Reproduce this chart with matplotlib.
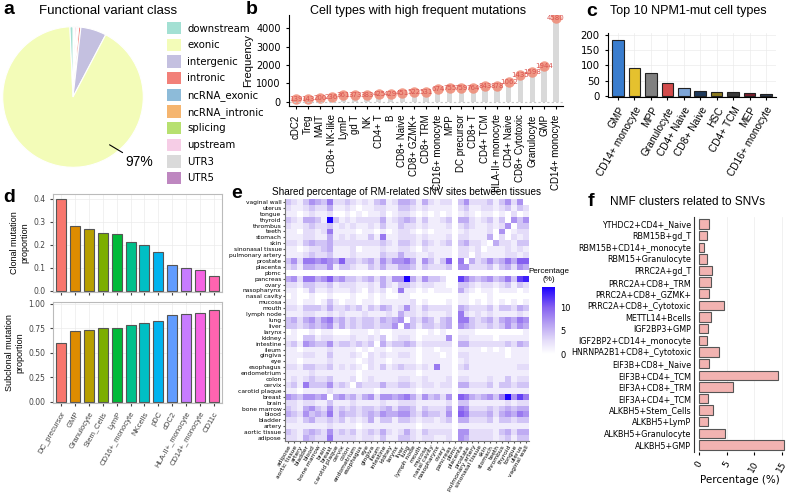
import matplotlib
matplotlib.use("Agg")
import matplotlib.pyplot as plt
import numpy as np
from matplotlib.colors import LinearSegmentedColormap
from matplotlib.patches import Patch

plt.rcParams['font.family'] = ['DejaVu Sans']

# ---- a: functional variant class (pie) ----
variant_classes = ['downstream', 'exonic', 'intergenic', 'intronic', 'ncRNA_exonic',
                   'ncRNA_intronic', 'splicing', 'upstream', 'UTR3', 'UTR5']
variant_share = [0.7, 91.6, 5.9, 0.5, 0.2, 0.2, 0.1, 0.4, 0.2, 0.2]
variant_colors = ['#A3E0D3', '#F3FCB8', '#C4C0E0', '#F28079', '#8DBBD9',
                  '#F5B56F', '#B7E070', '#F6CDE6', '#DADADA', '#BE87C0']

# ---- b: cell types with high frequent mutations ----
freq_cells = ['cDC2', 'Treg', 'MAIT', 'CD8+ NK-like', 'LymP', 'gd T', 'NK', 'CD4+ T', 'B',
              'CD8+ Naive', 'CD8+ GZMK+', 'CD8+ TRM', 'CD16+ monocyte', 'MPP', 'DC precursor',
              'CD8+ T', 'CD4+ TCM', 'HLA-II+ monocyte', 'CD4+ Naive', 'CD8+ Cytotoxic',
              'Granulocyte', 'GMP', 'CD14+ monocyte']
freq_values = [139, 143, 200, 236, 361, 373, 383, 425, 429, 451, 522, 531, 674, 755, 759,
               764, 843, 878, 1062, 1435, 1598, 1944, 4580]

# ---- c: top 10 NPM1-mut cell types ----
npm1_cells = ['GMP', 'CD14+ monocyte', 'MPP', 'Granulocyte', 'CD4+ Naive', 'CD8+ Naive',
              'HSC', 'CD4+ TCM', 'MEP', 'CD16+ monocyte']
npm1_counts = [185, 90, 74, 41, 27, 17, 14, 11, 8, 6]
npm1_colors = ['#3A7DCE', '#E5C12E', '#808080', '#D24B4B', '#7EA6D8', '#1E3A5C',
               '#8C7A1E', '#3A3A3A', '#7B1E2E', '#2B3A4E']

# ---- d: clonal / subclonal ----
clone_cells = ['DC_precursor', 'GMP', 'Granulocyte', 'Stem_Cells', 'LymP', 'CD16+_monocyte',
               'NKcells', 'pDC', 'cDC2', 'HLA-II+_monocyte', 'CD14+_monocyte', 'CD11c']
clonal_prop = [0.40, 0.28, 0.27, 0.25, 0.245, 0.21, 0.197, 0.17, 0.11, 0.10, 0.09, 0.065]
subclonal_prop = [0.60, 0.72, 0.73, 0.75, 0.755, 0.79, 0.803, 0.83, 0.89, 0.90, 0.91, 0.935]
clone_colors = ['#F8766D', '#DE8C00', '#B79F00', '#7CAE00', '#00BA38', '#00C08B',
                '#00BFC4', '#00B4F0', '#619CFF', '#C77CFF', '#F564E3', '#FF64B0']

# ---- e: shared percentage between tissues ----
tissues = ['adipose', 'aortic tissue', 'artery', 'bladder', 'blood', 'bone marrow', 'brain',
           'breast', 'carotid plaque', 'cervix', 'colon', 'endometrium', 'esophagus', 'eye',
           'gingiva', 'ileum', 'intestine', 'kidney', 'larynx', 'liver', 'lung', 'lymph node',
           'mouth', 'mucosa', 'nasal cavity', 'nasopharynx', 'ovary', 'pancreas', 'pbmc',
           'placenta', 'prostate', 'pulmonary artery', 'sinonasal tissue', 'skin', 'stomach',
           'teeth', 'thrombus', 'thyroid', 'tongue', 'uterus', 'vaginal wall']
# rows from top (vaginal wall) to bottom (adipose); hex level, 1 level = 1.45 %
share_rows = [
    "3213543622 3212134124 4314212203 5222313525 0",
    "2112322411 2101122113 3212111102 3112212313 2",
    "1101211200 1010112012 2101010101 2101101020 1",
    "3214431A31 2122224123 4313112304 4212313053 5",
    "2112322312 1211213113 2212111202 3211212503 3",
    "1102212611 1101101012 2101011101 2111205012 2",
    "1112211412 1211316112 2212111202 2111402021 2",
    "2213433422 2222223213 3213212303 4221042213 3",
    "1101223411 1201112112 2102111102 2120111212 1",
    "1112322311 1211113224 2211211102 2021111221 2",
    "3526656547 3323425355 6415313706 0423534647 7",
    "2314433513 3211324224 4313222305 5222313425 4",
    "0000000000 0000000000 0000000000 0000000000 0",
    "4526645745 3323424255 A425332008 6434534638 9",
    "2213322312 2211214213 3212211003 3212212313 2",
    "1101311211 1210212016 1101011104 2101101110 1",
    "0100100100 0100101001 1000000001 1000100000 0",
    "1101101310 1101101111 1201000101 1010101010 1",
    "2213332422 3231324312 5213222204 3222313324 3",
    "1112211212 1112111214 2212111206 2121211112 1",
    "3424535634 2323324345 0324313406 6323424546 5",
    "3323434524 2323323350 5313323405 4322323535 4",
    "0100101100 0111010011 1100101001 1100000000 1",
    "1103312211 1211213012 2101111502 2111101111 1",
    "2315433523 3232304233 4312222204 4222222324 3",
    "1101111211 1101011011 1101101101 1110101011 1",
    "1112211311 1210212112 2101110102 2111111011 1",
    "1101111211 1101211011 1101111101 2111111111 1",
    "2213322312 1210213123 2212161102 3111111112 2",
    "1111211111 1101111111 1101111101 1111111111 1",
    "1212322311 1201211112 2112111202 2111211312 2",
    "2316333523 2032224223 3212212204 4222313323 3",
    "1101111211 1111101111 1101111101 1111111111 1",
    "5435545045 3424525545 6425342507 6434536A58 6",
    "2212211311 1211112112 2211111203 3111111212 2",
    "3214532523 2323323424 4313222406 5222323434 4",
    "4325343624 3323435445 5324332507 6333424546 5",
    "2213422323 1212413313 3212212304 4222313323 3",
    "1111111211 1101111111 1101111101 1111111111 1",
    "3213432523 2312324212 4213222205 5222213424 4",
    "2214322622 2212213113 3212211205 4222212313 3",
]

# ---- f: NMF clusters ----
nmf_clusters = ['YTHDC2+CD4+_Naive', 'RBM15B+gd_T', 'RBM15B+CD14+_monocyte', 'RBM15+Granulocyte',
                'PRRC2A+gd_T', 'PRRC2A+CD8+_TRM', 'PRRC2A+CD8+_GZMK+', 'PRRC2A+CD8+_Cytotoxic',
                'METTL14+Bcells', 'IGF2BP3+GMP', 'IGF2BP2+CD14+_monocyte', 'HNRNPA2B1+CD8+_Cytotoxic',
                'EIF3B+CD8+_Naive', 'EIF3B+CD4+_TCM', 'EIF3A+CD8+_TRM', 'EIF3A+CD4+_TCM',
                'ALKBH5+Stem_Cells', 'ALKBH5+LymP', 'ALKBH5+Granulocyte', 'ALKBH5+GMP']
nmf_pct = [1.8, 1.5, 0.9, 1.5, 2.3, 2.1, 1.8, 4.5, 2.1, 1.7, 1.5, 3.7, 1.8, 14.4, 6.2, 1.7,
           2.5, 1.7, 4.7, 15.5]

W, H = 790, 494
fig = plt.figure(figsize=(W / 100, H / 100), dpi=100)


def box(x0, y0, x1, y1):
    return fig.add_axes([x0 / W, 1 - y1 / H, (x1 - x0) / W, (y1 - y0) / H])


def letter(x, y, s):
    fig.text(x / W, 1 - y / H, s, fontsize=14, fontweight='bold', va='center',
             family='Liberation Sans')


def title(x, y, s, size=9.5):
    fig.text(x / W, 1 - y / H, s, fontsize=size, ha='center', va='center',
             family='Liberation Sans')


# a
ax = box(2, 26, 144, 168)
ax.pie(variant_share[::-1], colors=variant_colors[::-1], startangle=90, counterclock=False,
       wedgeprops=dict(edgecolor='white', linewidth=0.8))
ax.set_xlim(-1.01, 1.01)
ax.set_ylim(-1.01, 1.01)
ax.set_aspect('equal')
ax.annotate('97%', xy=(0.52, -0.68), xytext=(0.74, -0.93), fontsize=10,
            family='Liberation Sans', va='center',
            arrowprops=dict(arrowstyle='-', color='black', lw=0.8, shrinkA=0, shrinkB=0))
title(108, 11, 'Functional variant class')
letter(3, 9, 'a')
handles = [Patch(facecolor=c, edgecolor='none') for c in variant_colors]
fig.legend(handles, variant_classes, loc='upper left', bbox_to_anchor=(163 / W, 1 - 18 / H),
           frameon=False, fontsize=7.3, handlelength=1.4, handleheight=1.5,
           labelspacing=0.42, handletextpad=0.6, borderaxespad=0)

# b
ax = box(289, 15, 563, 106)
xb = np.arange(len(freq_cells))
ax.bar(xb, freq_values, width=0.45, color='#D9D9D9')
ax.plot(xb, freq_values, 'o', ms=7.5, color='#F08A74', alpha=0.85, mec='none')
for xi, v in zip(xb, freq_values):
    ax.text(xi, v, str(v), fontsize=5, color='#D9534F', ha='center', va='center')
ax.axhline(0, color='#C8C8C8', lw=0.8, ls=(0, (2, 2)))
ax.set_xlim(-0.6, len(freq_cells) - 0.4)
ax.set_ylim(-235, 4725)
ax.set_yticks([0, 1000, 2000, 3000, 4000])
ax.set_xticks(xb)
ax.set_xticklabels(freq_cells, rotation=90, fontsize=7, family='Liberation Sans')
ax.tick_params(axis='y', labelsize=7, length=2.5)
ax.tick_params(axis='x', length=2.5)
ax.set_ylabel('Frequency', fontsize=8, family='Liberation Sans', labelpad=2)
for s in ['top', 'right']:
    ax.spines[s].set_visible(False)
title(418, 11, 'Cell types with high frequent mutations', size=9)
letter(246, 9, 'b')

# c
ax = box(608, 33, 776, 97)
xc = np.arange(len(npm1_cells))
ax.bar(xc, npm1_counts, width=0.7, color=npm1_colors, edgecolor='#222222', linewidth=0.8)
ax.set_xlim(-0.6, len(npm1_cells) - 0.4)
ax.set_ylim(-4, 207)
ax.set_yticks([0, 50, 100, 150, 200])
ax.set_xticks(xc)
ax.set_xticklabels(npm1_cells, rotation=60, ha='right', rotation_mode='anchor', fontsize=7.3,
                   family='Liberation Sans')
ax.tick_params(labelsize=7.3, length=2.5)
ax.grid(color='#EBEBEB', lw=0.5)
ax.set_axisbelow(True)
for s in ['top', 'right']:
    ax.spines[s].set_visible(False)
title(688, 11, 'Top 10 NPM1-mut cell types', size=9)
letter(586, 11, 'c')

# d
xd = np.arange(len(clone_cells))
for (y0, y1), vals, lab, top, ticks in [((194, 292), clonal_prop, 'Clonal mutation\nproportion', 0.42,
                                         [0.0, 0.1, 0.2, 0.3, 0.4]),
                                        ((302, 403), subclonal_prop, 'Subclonal mutation\nproportion', 1.02,
                                         [0.0, 0.25, 0.5, 0.75, 1.0])]:
    ax = box(53, y0, 222, y1)
    ax.bar(xd, vals, width=0.72, color=clone_colors, edgecolor='#555555', linewidth=0.8)
    ax.set_xlim(-0.6, len(clone_cells) - 0.4)
    ax.set_ylim(-0.005 * top / 0.42, top)
    ax.set_yticks(ticks)
    ax.set_yticklabels(['%.2f' % t if top > 1 else '%.1f' % t for t in ticks])
    ax.set_xticks(xd)
    ax.grid(color='#EBEBEB', lw=0.5)
    ax.set_axisbelow(True)
    ax.tick_params(labelsize=5.5, length=2, colors='#444444', labelcolor='#444444')
    ax.set_ylabel(lab, fontsize=6.5, family='Liberation Sans', labelpad=3)
    for s in ax.spines.values():
        s.set_color('#BBBBBB')
    if top > 1:
        ax.set_xticklabels(clone_cells, rotation=60, ha='right', rotation_mode='anchor',
                           fontsize=5.5, family='Liberation Sans')
    else:
        ax.set_xticklabels([])
letter(3, 197, 'd')

# e
share = np.array([[int(ch, 16) * 1.45 for ch in row.replace(' ', '')] for row in share_rows])
cmap = LinearSegmentedColormap.from_list(
    'share', [(0, '#FFFFFF'), (0.2, '#E4DCF9'), (0.45, '#B6A0F2'), (0.7, '#8660F0'), (1, '#1A00FF')])
ax = box(285, 199, 529, 441)
im = ax.imshow(share, cmap=cmap, vmin=0, vmax=14.5, aspect='auto', interpolation='nearest')
ax.set_xticks(np.arange(len(tissues)))
ax.set_xticklabels(tissues, rotation=60, ha='right', rotation_mode='anchor', fontsize=4.3)
ax.set_yticks(np.arange(len(tissues)))
ax.set_yticklabels(tissues[::-1], fontsize=4.3)
ax.tick_params(length=1.5, pad=1, colors='#555555', labelcolor='black')
for s in ['top', 'right']:
    ax.spines[s].set_visible(False)
for s in ['left', 'bottom']:
    ax.spines[s].set_color('#777777')
cax = box(542, 287, 555, 354)
cb = fig.colorbar(im, cax=cax, ticks=[0, 5, 10])
cb.outline.set_visible(False)
cax.tick_params(labelsize=6, length=0, pad=4)
cax.set_title('Percentage\n(%)', fontsize=5.8, pad=4, family='Liberation Sans')
title(407, 192, 'Shared percentage of RM-related SNV sites between tissues', size=7.2)
letter(231, 193, 'e')

# f
ax = box(694, 217, 786, 452)
yf = np.arange(len(nmf_clusters))[::-1]
ax.barh(yf, nmf_pct, height=0.8, color='#F2B3B1', edgecolor='#555555', linewidth=0.8)
ax.set_ylim(-0.6, len(nmf_clusters) - 0.4)
ax.set_xlim(-0.9, 15.8)
ax.set_yticks(yf)
ax.set_yticklabels(nmf_clusters, fontsize=5.8)
ax.set_xticks([0, 5, 10, 15])
ax.set_xticklabels(['0', '5', '10', '15'], rotation=60, fontsize=6.5)
ax.tick_params(axis='y', length=0, pad=2)
ax.tick_params(axis='x', length=2)
ax.grid(axis='x', color='#EBEBEB', lw=0.5)
ax.set_axisbelow(True)
ax.set_xlabel('Percentage (%)', fontsize=7.5, labelpad=1)
for s in ['top', 'right', 'bottom']:
    ax.spines[s].set_visible(False)
ax.spines['left'].set_color('#333333')
title(688, 202, 'NMF clusters related to SNVs', size=8.5)
letter(588, 202, 'f')

fig.savefig('out.png', dpi=100)
